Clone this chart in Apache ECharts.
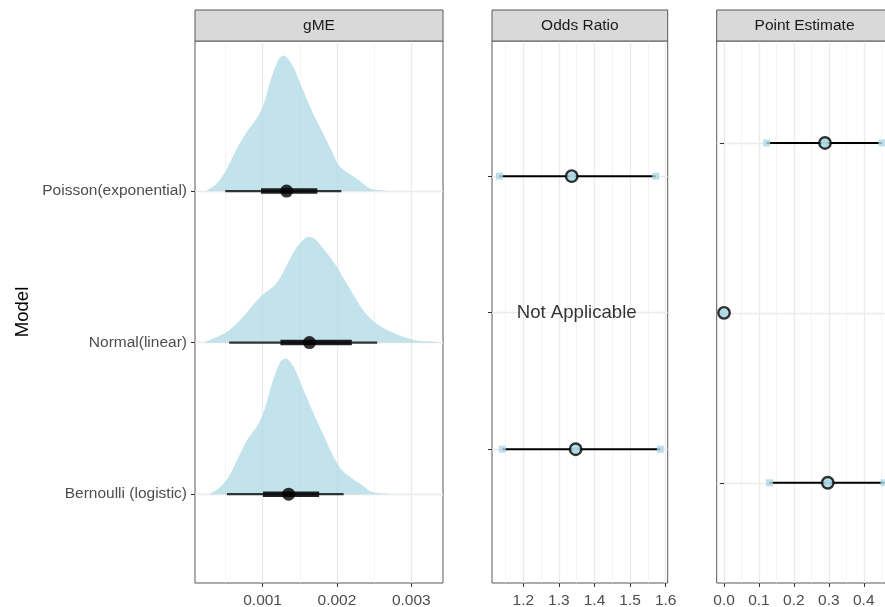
<!DOCTYPE html>
<html><head><meta charset="utf-8">
<script src="https://cdn.jsdelivr.net/npm/echarts@6/dist/echarts.min.js"></script>
<style>html,body{margin:0;padding:0;background:#fff}#c{width:885px;height:607px}</style>
</head><body><div id="c"></div>
<script>
// ---------- DATA ----------
const models = ['Bernoulli (logistic)', 'Normal(linear)', 'Poisson(exponential)'];
const modelPos = [1, 2, 3];
const panelTitles = ['gME', 'Odds Ratio', 'Point Estimate'];

// gME posterior summaries (median, 66% and 95% intervals)
const gmeMedian = [0.00135, 0.00163, 0.001323];
const gmeLo66 = [0.001005, 0.00124, 0.000978];
const gmeHi66 = [0.00176, 0.0022, 0.001736];
const gmeLo95 = [0.00052, 0.00055, 0.000498];
const gmeHi95 = [0.00209, 0.00254, 0.00206];

// gME posterior densities (x and scaled height)
const bernDensX = [0.000296, 0.000408, 0.000542, 0.000655, 0.00079, 0.000946, 0.001036, 0.001127, 0.001238, 0.001315, 0.001417, 0.001552, 0.001686, 0.001821, 0.001956, 0.002069, 0.002203, 0.002338, 0.002472, 0.002719];
const bernDensH = [0.005, 0.038, 0.114, 0.224, 0.356, 0.467, 0.576, 0.731, 0.873, 0.896, 0.840, 0.686, 0.533, 0.389, 0.246, 0.158, 0.104, 0.059, 0.015, 0.002];
const normalDensX = [0.000229, 0.000408, 0.000542, 0.000723, 0.000857, 0.000992, 0.001171, 0.001306, 0.00144, 0.001552, 0.001619, 0.001709, 0.001844, 0.001978, 0.002113, 0.002247, 0.002382, 0.002539, 0.002695, 0.002876, 0.003055, 0.003324];
const normalDensH = [0.005, 0.042, 0.079, 0.163, 0.240, 0.312, 0.383, 0.493, 0.614, 0.680, 0.698, 0.680, 0.603, 0.515, 0.405, 0.295, 0.196, 0.123, 0.079, 0.042, 0.015, 0.004];
const poissonDensX = [0.000252, 0.000363, 0.000498, 0.000633, 0.00079, 0.000925, 0.001013, 0.001104, 0.001215, 0.001283, 0.001396, 0.00153, 0.001665, 0.0018, 0.001934, 0.002023, 0.002157, 0.002292, 0.002427, 0.00256, 0.002696];
const poissonDensH = [0.005, 0.040, 0.128, 0.261, 0.393, 0.482, 0.570, 0.725, 0.868, 0.895, 0.835, 0.681, 0.526, 0.393, 0.261, 0.172, 0.117, 0.073, 0.022, 0.007, 0.001];

// Odds ratio
const orLow = [1.141, null, 1.133];
const orPoint = [1.347, null, 1.336];
const orHigh = [1.585, null, 1.572];
const orNote = [null, 'Not Applicable', null];
const orNoteX = 1.35;

// Point estimate
const peLow = [0.130, null, 0.122];
const pePoint = [0.297, 0.0, 0.289];
const peHigh = [0.458, null, 0.452];

// tick labels
const gmeTicks = [0.001, 0.002, 0.003];
const gmeMinorTicks = [0.0005, 0.0015, 0.0025];
const orTicks = [1.2, 1.3, 1.4, 1.5, 1.6];
const orMinorTicks = [1.15, 1.25, 1.35, 1.45, 1.55];
const peTicks = [0.0, 0.1, 0.2, 0.3, 0.4];
const peMinorTicks = [0.05, 0.15, 0.25, 0.35, 0.45];

// ---------- LAYOUT ----------
const FONT = '"Liberation Sans", Arial, Helvetica, sans-serif';
const BORDER = '#595959';
const gridLeft = [195, 492, 716.7];
const gridWidth = [248, 175.7, 175.7];
const gridTop = 41, gridHeight = 542;
const xRanges = [[0.000091, 0.003426], [1.1121, 1.6056], [-0.021, 0.482]];
const yRanges = [[0.414, 3.99], [0.02, 3.99], [0.41, 3.6]];
const majorTicks = [gmeTicks, orTicks, peTicks];
const minorTicks = [gmeMinorTicks, orMinorTicks, peMinorTicks];
const labelFmt = [v => String(+v.toFixed(3)), v => v.toFixed(1), v => v.toFixed(1)];

const dens = [
  { x: bernDensX, h: bernDensH },
  { x: normalDensX, h: normalDensH },
  { x: poissonDensX, h: poissonDensH }
];

const grids = gridLeft.map((l, i) => ({
  left: l, top: gridTop, width: gridWidth[i], height: gridHeight,
  show: true, borderColor: BORDER, borderWidth: 1, backgroundColor: 'transparent',
  containLabel: false, outerBoundsMode: 'none'
}));

const xMain = [0, 1, 2].map(i => ({
  type: 'value', gridIndex: i, min: xRanges[i][0], max: xRanges[i][1], position: 'bottom',
  axisLine: { show: false },
  axisTick: { show: true, length: 4, lineStyle: { color: '#333333', width: 1 }, customValues: majorTicks[i] },
  axisLabel: { show: true, customValues: majorTicks[i], formatter: labelFmt[i], color: '#4D4D4D', fontSize: 15.5, fontFamily: FONT, margin: 10, hideOverlap: false },
  splitLine: { show: true, lineStyle: { color: '#EBEBEB', width: 1.3 } },
  minorSplitLine: { show: false }
}));
const xMinor = [0, 1, 2].map(i => ({
  type: 'value', gridIndex: i, min: xRanges[i][0], max: xRanges[i][1], position: 'bottom',
  axisLine: { show: false },
  axisTick: { show: false, customValues: minorTicks[i] },
  axisLabel: { show: false },
  splitLine: { show: true, lineStyle: { color: '#EFEFEF', width: 0.7 } }
}));

const yAxes = [0, 1, 2].map(i => ({
  type: 'value', gridIndex: i, min: yRanges[i][0], max: yRanges[i][1],
  axisLine: { show: false },
  axisTick: { show: true, length: 4, lineStyle: { color: '#333333', width: 1 }, customValues: modelPos },
  axisLabel: {
    show: i === 0, customValues: modelPos,
    formatter: v => models[modelPos.indexOf(Math.round(v))] || '',
    color: '#4D4D4D', fontSize: 15.5, fontFamily: FONT, margin: 8
  },
  splitLine: { show: true, lineStyle: { color: '#EBEBEB', width: 1.3 } },
  name: i === 0 ? 'Model' : '',
  nameLocation: 'middle', nameRotate: 90, nameGap: 163,
  nameTextStyle: { color: '#000', fontSize: 18.6, fontFamily: FONT }
}));

function segSeries(xi, yi, lo, hi, width, color, z) {
  const data = [];
  modelPos.forEach((p, k) => { if (lo[k] != null && hi[k] != null) data.push([lo[k], hi[k], p]); });
  return {
    type: 'custom', xAxisIndex: xi, yAxisIndex: yi, z: z, silent: true,
    data: data, encode: { x: [0, 1], y: 2 },
    renderItem: (params, api) => {
      const a = api.coord([api.value(0), api.value(2)]);
      const b = api.coord([api.value(1), api.value(2)]);
      return { type: 'line', shape: { x1: a[0], y1: a[1], x2: b[0], y2: b[1] },
        style: { stroke: color, lineWidth: width, lineCap: 'butt' } };
    }
  };
}
function ptSeries(xi, yi, vals, symbol, size, style, z) {
  const data = [];
  modelPos.forEach((p, k) => { if (vals[k] != null) data.push([vals[k], p]); });
  return { type: 'scatter', xAxisIndex: xi, yAxisIndex: yi, z: z, silent: true,
    symbol: symbol, symbolSize: size, itemStyle: style, data: data };
}

const LB = '#ADD8E6';
const series = [
  // gME densities
  {
    type: 'custom', xAxisIndex: 0, yAxisIndex: 0, z: 2, silent: true,
    data: modelPos.map((p, i) => [dens[i].x[0], p]), encode: { x: 0, y: 1 },
    renderItem: (params, api) => {
      const i = params.dataIndex, d = dens[i], base = modelPos[i];
      const pts = [api.coord([d.x[0], base])];
      d.x.forEach((xv, k) => pts.push(api.coord([xv, base + d.h[k]])));
      pts.push(api.coord([d.x[d.x.length - 1], base]));
      let mnx = Infinity, mny = Infinity, mxx = -Infinity, mxy = -Infinity;
      pts.forEach(p => { mnx = Math.min(mnx, p[0]); mny = Math.min(mny, p[1]); mxx = Math.max(mxx, p[0]); mxy = Math.max(mxy, p[1]); });
      return { type: 'polygon',
        shape: { points: pts, smooth: 0.35, smoothConstraint: [[mnx, mny], [mxx, mxy]] },
        style: { fill: 'rgba(173,216,230,0.75)' } };
    }
  },
  segSeries(0, 0, gmeLo95, gmeHi95, 2.2, 'rgba(20,20,20,0.85)', 3),
  segSeries(0, 0, gmeLo66, gmeHi66, 5.5, 'rgba(10,10,10,0.9)', 4),
  ptSeries(0, 0, gmeMedian, 'circle', 13, { color: '#000' }, 5),
  // Odds ratio
  segSeries(1, 1, orLow, orHigh, 2, '#000', 3),
  ptSeries(1, 1, orLow, 'rect', 7, { color: LB }, 4),
  ptSeries(1, 1, orHigh, 'rect', 7, { color: LB }, 4),
  ptSeries(1, 1, orPoint, 'circle', 11.5, { color: LB, borderColor: '#000', borderWidth: 2.4 }, 5),
  ptSeries(1, 1, orPoint, 'rect', 6, { color: LB }, 6),
  {
    type: 'scatter', xAxisIndex: 1, yAxisIndex: 1, z: 6, silent: true, symbolSize: 0,
    data: modelPos.map((p, k) => orNote[k] ? { value: [orNoteX, p], name: orNote[k] } : null).filter(Boolean),
    label: { show: true, position: 'inside', formatter: '{b}', color: '#000', fontSize: 18.6, fontFamily: FONT, textBorderWidth: 0 }
  },
  // Point estimate
  segSeries(2, 2, peLow, peHigh, 2, '#000', 3),
  ptSeries(2, 2, peLow, 'rect', 7, { color: LB }, 4),
  ptSeries(2, 2, peHigh, 'rect', 7, { color: LB }, 4),
  ptSeries(2, 2, pePoint, 'circle', 11.5, { color: LB, borderColor: '#000', borderWidth: 2.4 }, 5),
  ptSeries(2, 2, pePoint, 'rect', 6, { color: LB }, 6)
];

const graphic = [];
panelTitles.forEach((t, i) => {
  graphic.push({
    type: 'rect', z: 10, silent: true,
    shape: { x: gridLeft[i], y: 10, width: gridWidth[i], height: 31 },
    style: { fill: '#D9D9D9', stroke: BORDER, lineWidth: 1 }
  });
  graphic.push({
    type: 'text', z: 11, silent: true,
    x: gridLeft[i] + gridWidth[i] / 2, y: 25.5,
    style: { text: t, fill: '#1A1A1A', font: '15.5px ' + FONT, align: 'center', verticalAlign: 'middle' }
  });
});

const chart = echarts.init(document.getElementById('c'), null, { renderer: 'canvas' });
chart.setOption({
  animation: false,
  backgroundColor: '#ffffff',
  grid: grids,
  xAxis: xMain.concat(xMinor),
  yAxis: yAxes,
  series: series,
  graphic: graphic
});
</script>
</body></html>
